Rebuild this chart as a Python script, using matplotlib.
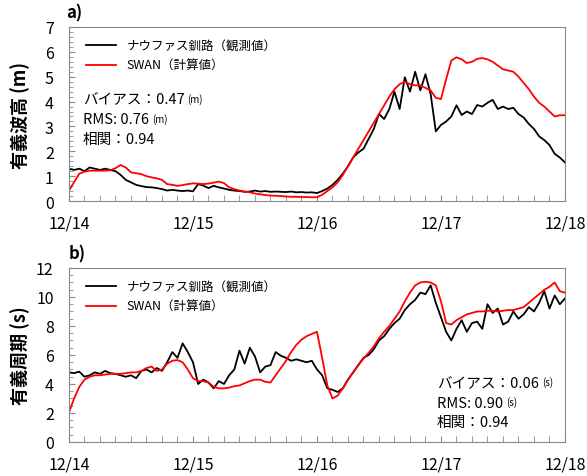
import numpy as np
import matplotlib
matplotlib.use("Agg")
import matplotlib.pyplot as plt
from matplotlib.ticker import MultipleLocator

plt.rcParams['font.family'] = ['Noto Sans CJK JP', 'DejaVu Sans']

# hours from 12/14 00:00, hourly values
hours = np.arange(97)
day_labels = ['12/14', '12/15', '12/16', '12/17', '12/18']

hs_obs = [1.3, 1.25, 1.3, 1.2, 1.35, 1.3, 1.25, 1.3, 1.25, 1.2,
          1.05, 0.85, 0.75, 0.65, 0.6, 0.56, 0.55, 0.52, 0.48, 0.42,
          0.45, 0.42, 0.4, 0.42, 0.39, 0.68, 0.62, 0.52, 0.61, 0.55,
          0.5, 0.45, 0.42, 0.4, 0.37, 0.38, 0.42, 0.38, 0.4, 0.37,
          0.38, 0.37, 0.36, 0.38, 0.35, 0.36, 0.34, 0.35, 0.32, 0.4,
          0.5, 0.65, 0.85, 1.1, 1.4, 1.75, 1.95, 2.1, 2.5, 2.9,
          3.5, 3.3, 3.7, 4.4, 3.7, 4.98, 4.4, 5.2, 4.45, 5.1,
          4.3, 2.8, 3.06, 3.2, 3.4, 3.85, 3.46, 3.6, 3.5, 3.86,
          3.8, 3.95, 4.07, 3.7, 3.8, 3.7, 3.75, 3.5, 3.36, 3.1,
          2.9, 2.6, 2.45, 2.25, 1.9, 1.75, 1.55]
hs_swan = [0.42, 0.76, 1.1, 1.18, 1.22, 1.22, 1.22, 1.22, 1.24, 1.32,
           1.45, 1.35, 1.15, 1.12, 1.08, 1.0, 0.95, 0.91, 0.85, 0.68,
           0.65, 0.61, 0.64, 0.68, 0.71, 0.7, 0.68, 0.7, 0.74, 0.78,
           0.72, 0.55, 0.48, 0.42, 0.38, 0.35, 0.3, 0.27, 0.24, 0.22,
           0.21, 0.2, 0.18, 0.17, 0.17, 0.16, 0.16, 0.15, 0.15, 0.25,
           0.4, 0.55, 0.75, 1.05, 1.4, 1.75, 2.1, 2.45, 2.8, 3.15,
           3.5, 3.85, 4.2, 4.5, 4.7, 4.8, 4.7, 4.65, 4.65, 4.55,
           4.45, 4.15, 4.1, 4.9, 5.65, 5.78, 5.7, 5.55, 5.6, 5.72,
           5.75, 5.7, 5.6, 5.45, 5.3, 5.25, 5.2, 5.0, 4.75, 4.5,
           4.2, 3.95, 3.8, 3.6, 3.4, 3.45, 3.45]

tp_obs = [4.8, 4.75, 4.85, 4.5, 4.6, 4.8, 4.7, 4.9, 4.75, 4.7,
          4.6, 4.5, 4.6, 4.4, 4.9, 5.0, 4.8, 5.1, 4.9, 5.5,
          6.2, 5.8, 6.8, 6.2, 5.5, 4.0, 4.3, 4.1, 3.7, 4.2,
          4.0, 4.6, 5.0, 6.3, 5.4, 6.5, 5.9, 4.8, 5.2, 5.3,
          6.2, 5.95, 5.8, 5.6, 5.7, 5.6, 5.5, 5.6, 5.0, 4.6,
          3.7, 3.6, 3.45, 3.7, 4.3, 4.8, 5.3, 5.8, 6.0, 6.4,
          7.0, 7.3, 7.8, 8.2, 8.5, 9.1, 9.5, 9.8, 10.3, 10.2,
          10.8, 9.6, 8.6, 7.6, 7.0, 7.8, 8.4, 7.6, 8.2, 8.3,
          7.8, 9.5, 8.9, 9.2, 8.1, 8.3, 9.0, 8.5, 8.8, 9.3,
          9.0, 9.6, 10.4, 9.2, 10.1, 9.5, 9.9]
tp_swan = [2.05, 3.0, 3.8, 4.3, 4.5, 4.6, 4.6, 4.65, 4.7, 4.7,
           4.7, 4.75, 4.8, 4.8, 4.9, 5.1, 5.2, 4.9, 5.0, 5.4,
           5.6, 5.65, 5.5, 5.0, 4.4, 4.2, 4.2, 4.1, 3.8, 3.7,
           3.7, 3.75, 3.85, 3.9, 4.05, 4.2, 4.3, 4.3, 4.15, 4.1,
           4.6, 5.1, 5.6, 6.2, 6.7, 7.05, 7.3, 7.45, 7.6, 5.8,
           3.9, 3.0, 3.2, 3.7, 4.3, 4.8, 5.3, 5.75, 6.15, 6.6,
           7.15, 7.6, 8.0, 8.5, 9.0, 9.7, 10.3, 10.8, 11.0, 11.05,
           11.0, 10.8, 9.7, 8.2, 8.1, 8.4, 8.6, 8.8, 8.9, 9.0,
           9.0, 9.05, 9.05, 9.0, 9.05, 9.1, 9.1, 9.2, 9.3, 9.6,
           9.9, 10.2, 10.5, 10.7, 11.0, 10.4, 10.3]

fig = plt.figure(figsize=(5.87, 4.77), dpi=100)
ax1 = fig.add_axes([0.1175, 0.5765, 0.845, 0.3648])
ax2 = fig.add_axes([0.1175, 0.0713, 0.845, 0.3648])


def style(ax, ymax, major, minor, ylabel):
    ax.set_xlim(0, 96)
    ax.set_ylim(0, ymax)
    ax.set_xticks(np.arange(0, 97, 24))
    ax.set_xticklabels(day_labels)
    ax.xaxis.set_minor_locator(MultipleLocator(3))
    ax.yaxis.set_major_locator(MultipleLocator(major))
    ax.yaxis.set_minor_locator(MultipleLocator(minor))
    ax.tick_params(which='both', direction='in', color='#888888',
                   top=False, right=False, labelsize=11.5)
    ax.tick_params(axis='x', which='both', length=4, pad=10)
    ax.tick_params(axis='y', which='major', length=4, pad=11)
    ax.tick_params(axis='y', which='minor', length=3)
    for s in ax.spines.values():
        s.set_color('#888888')
    ax.set_ylabel(ylabel, fontsize=13, fontweight='bold')
    ax.yaxis.set_label_coords(-0.078, 0.5)


def stats(ax, x, y0, dy, bias, rms, corr, unit):
    rows = [('バイアス：' + bias, unit), ('RMS: ' + rms, unit), ('相関：' + corr, None)]
    for i, (txt, u) in enumerate(rows):
        t = ax.text(x, y0 - i * dy, txt, transform=ax.transAxes,
                    fontsize=10.5, va='center', ha='left')
        if u:
            ax.annotate(u, xy=(1, 0.18), xycoords=t, xytext=(2, 0),
                        textcoords='offset points', fontsize=7, va='bottom')


style(ax1, 7, 1, 0.2, '有義波高 (m)')
ax1.plot(hours, hs_obs, color='black', lw=1.3, label='ナウファス釧路（観測値）')
ax1.plot(hours, hs_swan, color='red', lw=1.3, label='SWAN（計算値）')
ax1.legend(loc='upper left', frameon=False, fontsize=9, handlelength=2.4,
           borderaxespad=0.2, bbox_to_anchor=(0.02, 0.97), labelspacing=0.5)
stats(ax1, 0.028, 0.586, 0.115, '0.47', '0.76', '0.94', '(m)')
fig.text(0.113, 0.972, 'a)', fontsize=12, fontweight='bold', va='center')

style(ax2, 12, 2, 0.5, '有義周期 (s)')
ax2.plot(hours, tp_obs, color='black', lw=1.3, label='ナウファス釧路（観測値）')
ax2.plot(hours, tp_swan, color='red', lw=1.3, label='SWAN（計算値）')
ax2.legend(loc='upper left', frameon=False, fontsize=9, handlelength=2.4,
           borderaxespad=0.2, bbox_to_anchor=(0.02, 0.97), labelspacing=0.5)
stats(ax2, 0.742, 0.339, 0.113, '0.06', '0.90', '0.94', '(s)')
fig.text(0.117, 0.466, 'b)', fontsize=12, fontweight='bold', va='center')

fig.savefig('out.png', dpi=100)
